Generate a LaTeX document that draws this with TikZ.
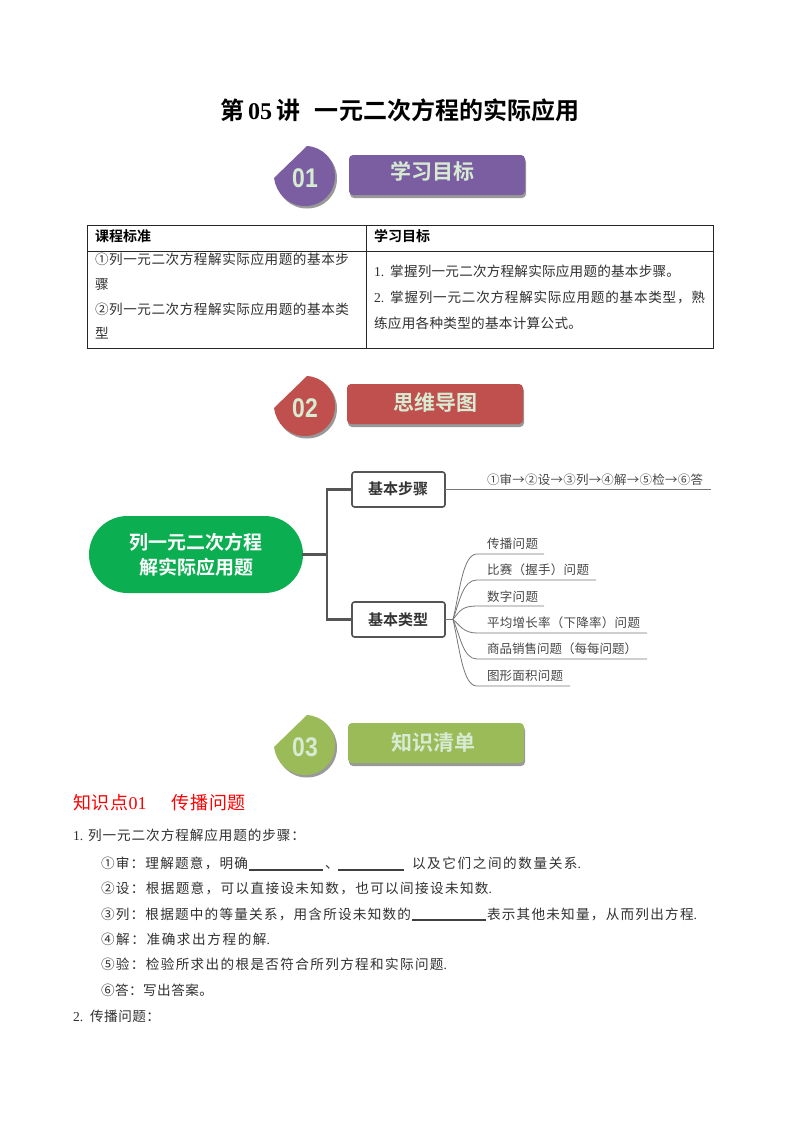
\documentclass[tikz,border=0pt]{standalone}
\usepackage{fontspec}
\setmainfont{Noto Sans CJK SC}[BoldFont={Noto Sans CJK SC Bold}]
\newfontfamily\lat{Liberation Serif}
\newfontfamily\latsans{Liberation Sans}
\XeTeXinterchartokenstate=1
\chardef\cjkcl=5
\newcount\ccnt
\newcommand{\setcjkrange}[2]{\ccnt=#1\relax\loop\XeTeXcharclass\ccnt=\cjkcl\relax\advance\ccnt 1\relax\ifnum\ccnt<#2\repeat}
\setcjkrange{"4E00}{"A000}
\setcjkrange{"3000}{"3040}
\setcjkrange{"FF00}{"FFF0}
\setcjkrange{"2460}{"2474}
\setcjkrange{"2192}{"2193}
\XeTeXinterchartoks\cjkcl\cjkcl={\hskip 0pt plus 1fil\relax}
\definecolor{purpleB}{HTML}{7B5EA1}
\definecolor{redB}{HTML}{C0504D}
\definecolor{greenB}{HTML}{9BBB59}
\definecolor{pill}{HTML}{0BAE50}
\definecolor{paleT}{HTML}{D6EBD2}
\definecolor{lineG}{HTML}{555555}
\definecolor{thinG}{HTML}{777777}
\definecolor{bodyT}{HTML}{303030}
\tikzset{
  every node/.style={inner sep=0pt,outer sep=0pt},
  bodytext/.style={anchor=base west,font=\fontsize{13.6}{14}\selectfont,text=bodyT,yshift=-5pt},
  headtext/.style={anchor=base west,font=\fontsize{14}{14}\selectfont\bfseries,text=black,yshift=-5pt},
  titletext/.style={anchor=base west,font=\fontsize{24}{24}\selectfont\bfseries,text=black,yshift=-8.5pt},
  redtext/.style={anchor=base west,font=\fontsize{18}{18}\selectfont,text=red,yshift=-6.5pt},
  bartext/.style={anchor=base west,font=\fontsize{21}{21}\selectfont\bfseries,text=paleT,yshift=-7.5pt},
  pilltext/.style={anchor=base west,font=\fontsize{19}{19}\selectfont\bfseries,text=white,yshift=-7pt},
  boxtext/.style={anchor=base west,font=\fontsize{15}{15}\selectfont\bfseries,text=black!80,yshift=-5.5pt},
  maptext/.style={anchor=base west,font=\fontsize{12.5}{13}\selectfont,text=black!72,yshift=-4.7pt},
  barbox/.style={rounded corners=4pt,minimum height=40pt,minimum width=176pt,anchor=north west},
  mapbox/.style={draw=lineG,line width=1.6pt,rounded corners=2.5pt,minimum width=93pt,minimum height=35pt,fill=white},
  conn/.style={draw=lineG,line width=2.2pt,line cap=rect},
  branch/.style={draw=thinG,line width=0.8pt},
  blank/.style={draw=black!75,line width=1.1pt},
  tablerule/.style={draw=black!85,line width=0.8pt},
}
\newcommand{\tline}[6]{\node[#5] (#1) at (#2,#3) {\makebox[#4pt][s]{#6}};}
\newcommand{\leafbadge}[5]{%
  \begin{scope}[shift={(#1,#2)}]
    \fill[black!40,shift={(2,2.5)}] (-31,2) -- (2,-30) .. controls (18,-29) and (30,-16) .. (30,0) .. controls (30,17) and (17,30) .. (0,30) .. controls (-17,30) and (-29,17) .. (-31,2) -- cycle;
    \fill[#3] (-31,2) -- (2,-30) .. controls (18,-29) and (30,-16) .. (30,0) .. controls (30,17) and (17,30) .. (0,30) .. controls (-17,30) and (-29,17) .. (-31,2) -- cycle;
    \node[text=paleT,font=\fontsize{27}{27}\latsans\bfseries,xscale=0.85] (#5) at (0,2) {#4};
  \end{scope}}
\begin{document}
\begin{tikzpicture}[x=1pt,y=-1pt]
\useasboundingbox[fill=white] (0,0) rectangle (800,1132);

% title
\tline{t1}{220}{111}{360}{titletext}{第\hskip4pt{\lat 05}\hskip4pt讲\hskip15pt一元二次方程的实际应用}

% badge 01
\leafbadge{305}{176}{purpleB}{01}{b1}
\node[barbox,fill=black!40] (bar1s) at (350,158) {};
\node[barbox,fill=purpleB] (bar1) at (349,155) {};
\tline{bt1}{390}{172}{85}{bartext}{学习目标}

% table
\draw[tablerule] (87,225) rectangle (713,348);
\draw[tablerule] (87,251) -- (713,251);
\draw[tablerule] (366,225) -- (366,348);
\tline{h1}{95}{236}{56}{headtext}{课程标准}
\tline{h2}{374}{236}{56}{headtext}{学习目标}
\tline{c1}{95}{259}{254}{bodytext}{①列一元二次方程解实际应用题的基本步}
\tline{c2}{95}{284}{14}{bodytext}{骤}
\tline{c3}{95}{309}{254}{bodytext}{②列一元二次方程解实际应用题的基本类}
\tline{c4}{95}{333}{14}{bodytext}{型}
\tline{d1}{374}{271}{306}{bodytext}{{\lat 1.}\hskip6pt 掌握列一元二次方程解实际应用题的基本步骤。}
\tline{d2}{374}{297}{331}{bodytext}{{\lat 2.}\hskip6pt 掌握列一元二次方程解实际应用题的基本类型，熟}
\tline{d3}{374}{323}{208}{bodytext}{练应用各种类型的基本计算公式。}

% badge 02
\leafbadge{305}{406}{redB}{02}{b2}
\node[barbox,fill=black!40] (bar2s) at (348,387) {};
\node[barbox,fill=redB] (bar2) at (347,384) {};
\tline{bt2}{393}{403}{85}{bartext}{思维导图}

% mind map
\node[fill=pill,rounded corners=38.5pt,minimum width=214pt,minimum height=77pt] (root) at (196,554.5) {};
\tline{r1}{129}{542}{134}{pilltext}{列一元二次方程}
\tline{r2}{139}{567}{114}{pilltext}{解实际应用题}
\node[mapbox] (step) at (398.5,489.5) {};
\node[mapbox] (kind) at (398.5,619.5) {};
\tline{st}{368}{489}{60}{boxtext}{基本步骤}
\tline{kt}{368}{620}{60}{boxtext}{基本类型}
\coordinate (fork) at (327,554.5);
\draw[conn] (root.east) -- (fork);
\draw[conn] (step.west) -| (fork) |- (kind.west);

\coordinate (stepend) at (711,489.5);
\draw[branch] (step.east) -- (stepend);
\tline{seq}{487}{480}{216}{maptext}{①审→②设→③列→④解→⑤检→⑥答}

\coordinate (hub) at (453,619.5);
\draw[branch] (kind.east) -- (hub);
\coordinate (e1) at (544,554);
\coordinate (e2) at (596,580);
\coordinate (e3) at (544,606);
\coordinate (e4) at (647,633);
\coordinate (e5) at (647,659);
\coordinate (e6) at (570,686);
\draw[branch] (hub) .. controls (460,590) and (463,554) .. (477,554) -- (e1);
\draw[branch] (hub) .. controls (460,600) and (463,580) .. (477,580) -- (e2);
\draw[branch] (hub) .. controls (460,610) and (463,606) .. (477,606) -- (e3);
\draw[branch] (hub) .. controls (460,625) and (463,633) .. (477,633) -- (e4);
\draw[branch] (hub) .. controls (460,635) and (463,659) .. (477,659) -- (e5);
\draw[branch] (hub) .. controls (460,650) and (463,686) .. (477,686) -- (e6);
\tline{m1}{487}{544}{51}{maptext}{传播问题}
\tline{m2}{487}{570}{102}{maptext}{比赛（握手）问题}
\tline{m3}{487}{597}{51}{maptext}{数字问题}
\tline{m4}{487}{623}{153}{maptext}{平均增长率（下降率）问题}
\tline{m5}{487}{649}{150}{maptext}{商品销售问题（每每问题）}
\tline{m6}{487}{676}{76}{maptext}{图形面积问题}

% badge 03
\leafbadge{305}{745}{greenB}{03}{b3}
\node[barbox,fill=black!40] (bar3s) at (349,726) {};
\node[barbox,fill=greenB] (bar3) at (348,723) {};
\tline{bt3}{391}{743}{85}{bartext}{知识清单}

% body
\tline{k0}{73}{803}{173}{redtext}{知识点{\lat 01}\hskip25pt 传播问题}
\tline{k1}{73}{835}{232}{bodytext}{{\lat 1.}\hskip5pt 列一元二次方程解应用题的步骤：}
\tline{k2a}{101}{863}{147}{bodytext}{①审：理解题意，明确}
\draw[blank] (249,870) -- (323,870);
\tline{k2b}{325}{863}{12}{bodytext}{、}
\draw[blank] (338,870) -- (404,870);
\tline{k2c}{412}{863}{169}{bodytext}{以及它们之间的数量关系{\lat .}}
\tline{k3}{101}{888}{391}{bodytext}{②设：根据题意，可以直接设未知数，也可以间接设未知数{\lat .}}
\tline{k4a}{101}{914}{310}{bodytext}{③列：根据题中的等量关系，用含所设未知数的}
\draw[blank] (412,920) -- (486,920);
\tline{k4b}{487}{914}{210}{bodytext}{表示其他未知量，从而列出方程{\lat .}}
\tline{k5}{101}{939}{169}{bodytext}{④解：准确求出方程的解{\lat .}}
\tline{k6}{101}{964}{346}{bodytext}{⑤验：检验所求出的根是否符合所列方程和实际问题{\lat .}}
\tline{k7}{101}{990}{112}{bodytext}{⑥答：写出答案。}
\tline{k8}{73}{1016}{87}{bodytext}{{\lat 2.}\hskip7pt 传播问题：}
\end{tikzpicture}
\end{document}
